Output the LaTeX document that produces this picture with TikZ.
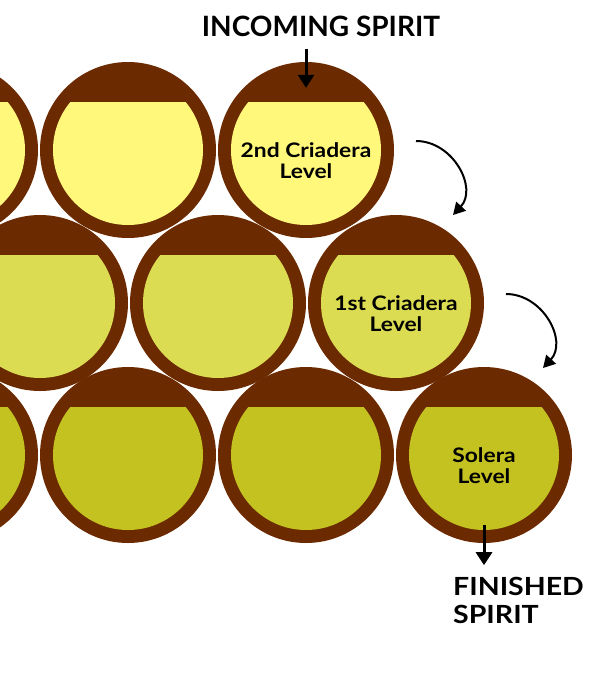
\documentclass[tikz,border=0pt]{standalone}
\usepackage{fontspec}
\setmainfont{Lato}
\newfontfamily\widesans{Lato}[FakeStretch=1.14]
\usetikzlibrary{arrows.meta,positioning,calc}

\definecolor{caskbrown}{RGB}{107,42,0}
\definecolor{sherrytop}{RGB}{255,248,122}
\definecolor{sherrymid}{RGB}{220,220,82}
\definecolor{sherrylow}{RGB}{196,194,32}

% one cask: name, centre, colour of the spirit
\newcommand{\cask}[3]{%
  \node[cask] (#1) at (#2) {};
  \begin{scope}
    \clip ($(#1.center)+(-80,-48)$) rectangle ($(#1.center)+(80,80)$);
    \fill[#3] (#1.center) circle (75pt);
  \end{scope}}

\begin{document}
\begin{tikzpicture}[x=1pt, y=-1pt,
    cask/.style={circle, fill=caskbrown, minimum size=176pt, inner sep=0pt},
    casklabel/.style={align=center, inner sep=0pt, font=\widesans\fontsize{20}{21}\selectfont\bfseries},
    heading/.style={inner sep=0pt, font=\fontsize{28}{28}\selectfont\bfseries},
    feed/.style={line width=3pt, -{Triangle[length=13pt,width=16pt]}},
    pass/.style={line width=2pt, -{Triangle[length=12pt,width=13pt]}}]
  \useasboundingbox (0,0) rectangle (610,673);
  \clip (0,0) rectangle (610,673);

  % 2nd criadera row
  \cask{cr2a}{-50,150}{sherrytop}
  \cask{cr2b}{128,150}{sherrytop}
  \cask{cr2c}{306,150}{sherrytop}

  % 1st criadera row
  \cask{cr1a}{40,303}{sherrymid}
  \cask{cr1b}{218,303}{sherrymid}
  \cask{cr1c}{396,303}{sherrymid}

  % solera row
  \cask{sola}{-50,455}{sherrylow}
  \cask{solb}{128,455}{sherrylow}
  \cask{solc}{306,455}{sherrylow}
  \cask{sold}{484,455}{sherrylow}

  \node[casklabel] (lbl2) at ($(cr2c)+(0,11)$) {2nd Criadera\\Level};
  \node[casklabel] (lbl1) at ($(cr1c)+(0,11)$) {1st Criadera\\Level};
  \node[casklabel] (lbl0) at ($(sold)+(0,11)$) {Solera\\Level};

  \node[heading] (incoming) at (321,26) {INCOMING SPIRIT};
  \coordinate (intip) at ($(cr2c.north)+(0,26)$);
  \draw[feed] ($(incoming.south -| cr2c)+(0,12)$) -- (intip);

  \foreach \src in {cr2c, cr1c}
    \draw[pass] ($(\src)+(110,-9)$) .. controls +(37,0) and +(25,-27) .. ($(\src)+(147,65)$);

  \coordinate (outtip) at ($(sold.south)+(0,22)$);
  \draw[feed] ($(sold.center)+(0,70)$) -- (outtip);
  \node[heading, font=\widesans\fontsize{25}{28}\selectfont\bfseries, align=left, anchor=north west] (finished)
    at ($(outtip)+(-31,12)$) {FINISHED\\SPIRIT};
\end{tikzpicture}
\end{document}
